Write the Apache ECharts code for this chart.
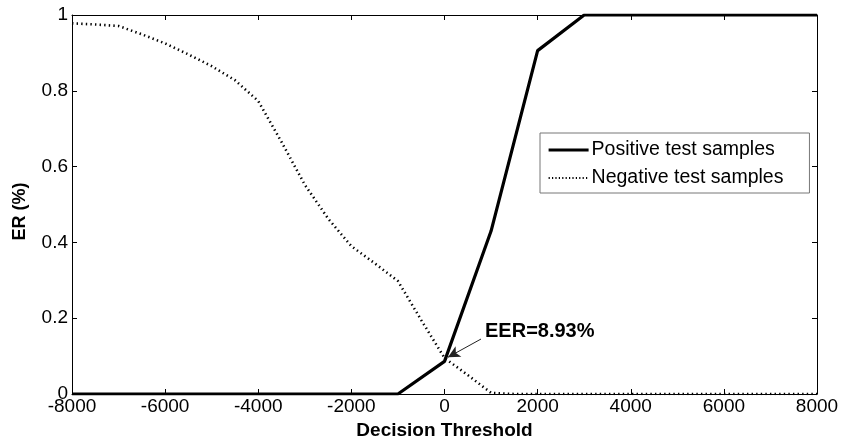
<!DOCTYPE html>
<html>
<head>
<meta charset="utf-8">
<script src="https://cdn.jsdelivr.net/npm/echarts@6/dist/echarts.min.js"></script>
<style>html,body{margin:0;padding:0;background:#fff;}#c{width:842px;height:445px;}</style>
</head>
<body>
<div id="c"></div>
<script>
const positiveX = [-8000, -1000, 0, 1000, 2000, 3000, 8000];
const positiveY = [0, 0, 0.086, 0.43, 0.906, 1, 1];
const negativeX = [-8000, -7500, -7000, -6500, -6000, -5500, -5000, -4500, -4000, -3500, -3000, -2500, -2000, -1500, -1000, -500, 0, 500, 1000, 1500, 8000];
const negativeY = [0.978, 0.975, 0.971, 0.949, 0.925, 0.896, 0.865, 0.828, 0.773, 0.665, 0.552, 0.463, 0.390, 0.345, 0.298, 0.195, 0.095, 0.050, 0.003, 0, 0];
const xTicks = [-8000, -6000, -4000, -2000, 0, 2000, 4000, 6000, 8000];
const yTicks = [0, 0.2, 0.4, 0.6, 0.8, 1];
const eerLabel = 'EER=8.93%';
const eerArrowFrom = [784, 0.145];
const eerArrowTo = [75, 0.097];
const eerTextAt = [870, 0.165];

const font = 'Liberation Sans, Arial, sans-serif';
const chart = echarts.init(document.getElementById('c'));
const axisCommon = {
  axisLine: {show: true, onZero: false, lineStyle: {color: '#000', width: 1}},
  axisTick: {show: true, inside: true, length: 5, lineStyle: {color: '#000'}},
  splitLine: {show: false}
};
chart.setOption({
  animation: false,
  backgroundColor: '#fff',
  grid: {left: 72, right: 25, top: 15, bottom: 48, show: false},
  legend: {
    orient: 'vertical', left: 540, top: 133,
    padding: [7, 26, 5, 7], itemGap: 8, itemWidth: 40, itemHeight: 19,
    backgroundColor: '#fff', borderColor: '#777', borderWidth: 1, borderRadius: 0,
    itemStyle: {opacity: 0, borderWidth: 0},
    textStyle: {fontFamily: font, fontSize: 19.5, color: '#000', padding: [0, 0, 0, -2]},
    data: [
      {name: 'Positive test samples', lineStyle: {width: 3.2}},
      {name: 'Negative test samples', lineStyle: {width: 2, type: [1.2, 2.2]}}
    ]
  },
  xAxis: [
    Object.assign({}, axisCommon, {
      type: 'value', min: -8000, max: 8000, interval: 2000, position: 'bottom',
      name: 'Decision Threshold', nameLocation: 'middle', nameGap: 27,
      nameTextStyle: {fontFamily: font, fontSize: 19, fontWeight: 'bold', color: '#000'},
      axisLabel: {fontFamily: font, fontSize: 19, color: '#000', margin: 3,
        customValues: xTicks, formatter: v => String(v)}
    }),
    Object.assign({}, axisCommon, {
      type: 'value', min: -8000, max: 8000, interval: 2000, position: 'top',
      axisLabel: {show: false}
    })
  ],
  yAxis: [
    Object.assign({}, axisCommon, {
      type: 'value', min: 0, max: 1, interval: 0.2, position: 'left',
      name: 'ER (%)', nameLocation: 'middle', nameGap: 43,
      nameTextStyle: {fontFamily: font, fontSize: 18, fontWeight: 'bold', color: '#000', padding: [0, 0, 0, -14]},
      axisLabel: {fontFamily: font, fontSize: 19, color: '#000', margin: 4,
        customValues: yTicks, formatter: v => String(Math.round(v * 10) / 10)}
    }),
    Object.assign({}, axisCommon, {
      type: 'value', min: 0, max: 1, interval: 0.2, position: 'right',
      axisLabel: {show: false}
    })
  ],
  series: [
    {
      name: 'Negative test samples', type: 'line', symbol: 'none', z: 2,
      lineStyle: {color: '#000', width: 2.6, type: [1.4, 3.2]},
      itemStyle: {color: '#000'},
      data: negativeX.map((x, i) => [x, negativeY[i]])
    },
    {
      name: 'Positive test samples', type: 'line', symbol: 'none', z: 3,
      lineStyle: {color: '#000', width: 3.2},
      itemStyle: {color: '#000'},
      data: positiveX.map((x, i) => [x, positiveY[i]]),
      markLine: {
        silent: true, symbol: ['none', 'arrow'], symbolSize: [9, 12],
        lineStyle: {color: '#222', width: 1, type: 'solid'},
        label: {show: false},
        data: [[{coord: eerArrowFrom}, {coord: eerArrowTo}]]
      },
      markPoint: {
        silent: true, symbol: 'circle', symbolSize: 0,
        label: {show: true, position: 'right', distance: 0, formatter: eerLabel,
          fontFamily: font, fontSize: 20, fontWeight: 'bold', color: '#000'},
        data: [{coord: eerTextAt}]
      }
    }
  ]
});
</script>
</body>
</html>
